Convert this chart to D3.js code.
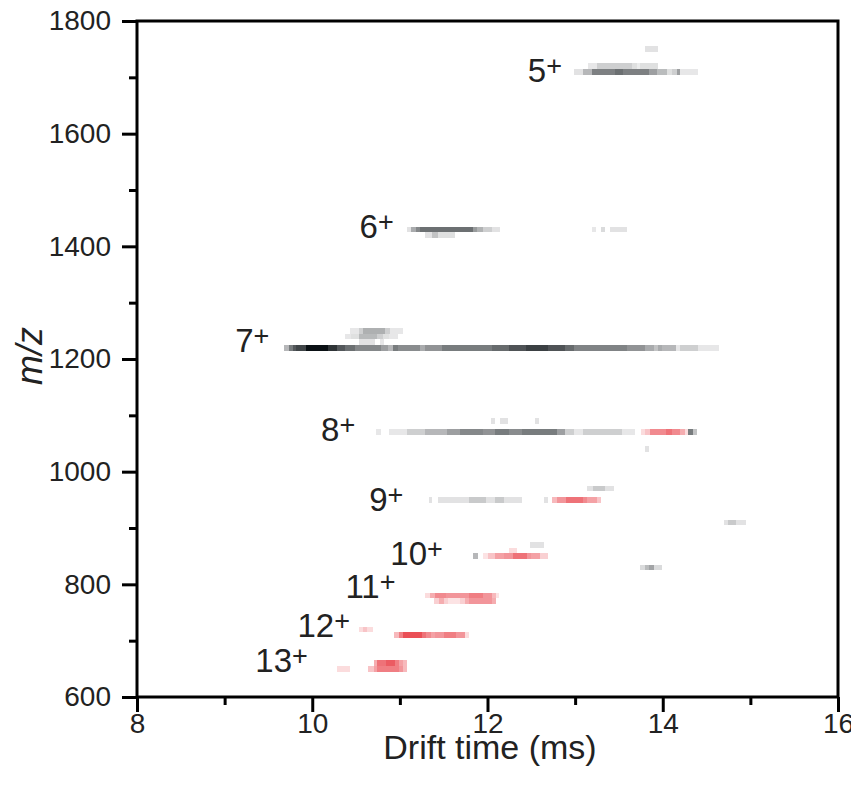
<!DOCTYPE html>
<html>
<head>
<meta charset="utf-8">
<script src="https://cdn.jsdelivr.net/npm/d3@7"></script>
<style>
  html, body { margin: 0; padding: 0; background: #fff; }
  svg { display: block; font-family: "Liberation Sans", Arial, sans-serif; }
</style>
</head>
<body>
<svg id="chart" width="851" height="787"></svg>
<script>
// ---- Data (drift time in ms, m/z bin centre, intensity 0..1, channel g=grey r=red) ----
// each cell: [mz, tStart, tEnd, intensity, channel]
const ion5 = [
  [1710, 12.99, 13.09, 0.12, "g"], [1710, 13.09, 13.19, 0.30, "g"], [1710, 13.19, 13.46, 0.53, "g"],
  [1710, 13.46, 13.55, 0.60, "g"], [1710, 13.55, 13.84, 0.53, "g"], [1710, 13.84, 13.93, 0.40, "g"],
  [1710, 13.93, 14.05, 0.28, "g"], [1710, 14.05, 14.11, 0.13, "g"], [1710, 14.11, 14.16, 0.20, "g"],
  [1710, 14.16, 14.20, 0.40, "g"], [1710, 14.20, 14.40, 0.10, "g"],
  [1720, 13.15, 13.25, 0.10, "g"], [1720, 13.25, 13.65, 0.20, "g"], [1720, 13.65, 13.71, 0.13, "g"],
  [1720, 13.71, 13.74, 0.08, "g"], [1720, 13.74, 13.83, 0.13, "g"], [1720, 13.83, 13.95, 0.13, "g"],
  [1750, 13.80, 13.95, 0.12, "g"]
];
const ion6 = [
  [1430, 11.08, 11.13, 0.12, "g"], [1430, 11.13, 11.18, 0.35, "g"], [1430, 11.18, 11.23, 0.50, "g"],
  [1430, 11.23, 11.83, 0.60, "g"], [1430, 11.83, 11.88, 0.42, "g"], [1430, 11.88, 11.95, 0.32, "g"],
  [1430, 11.95, 12.05, 0.20, "g"], [1430, 12.05, 12.14, 0.12, "g"],
  [1420, 11.29, 11.37, 0.12, "g"], [1420, 11.37, 11.43, 0.25, "g"], [1420, 11.43, 11.63, 0.13, "g"],
  [1430, 13.19, 13.24, 0.10, "g"], [1430, 13.30, 13.34, 0.15, "g"], [1430, 13.40, 13.59, 0.12, "g"]
];
const ion7 = [
  [1220, 9.68, 9.73, 0.30, "g"], [1220, 9.73, 9.78, 0.55, "g"], [1220, 9.78, 9.82, 0.70, "g"],
  [1220, 9.82, 9.93, 0.78, "g"], [1220, 9.93, 10.18, 1.00, "g"], [1220, 10.18, 10.28, 0.85, "g"],
  [1220, 10.28, 10.37, 0.70, "g"], [1220, 10.37, 10.49, 0.60, "g"], [1220, 10.49, 10.78, 0.50, "g"],
  [1220, 10.78, 10.87, 0.40, "g"], [1220, 10.87, 10.92, 0.30, "g"], [1220, 10.92, 10.98, 0.55, "g"],
  [1220, 10.98, 11.23, 0.48, "g"], [1220, 11.23, 11.29, 0.35, "g"], [1220, 11.29, 11.48, 0.45, "g"],
  [1220, 11.48, 12.05, 0.55, "g"], [1220, 12.05, 12.24, 0.62, "g"], [1220, 12.24, 12.44, 0.72, "g"],
  [1220, 12.44, 12.69, 0.80, "g"], [1220, 12.69, 12.88, 0.72, "g"], [1220, 12.88, 12.99, 0.62, "g"],
  [1220, 12.99, 13.59, 0.52, "g"], [1220, 13.59, 13.80, 0.45, "g"], [1220, 13.80, 13.90, 0.35, "g"],
  [1220, 13.90, 13.95, 0.25, "g"], [1220, 13.95, 13.99, 0.35, "g"], [1220, 13.99, 14.15, 0.30, "g"],
  [1220, 14.15, 14.20, 0.10, "g"], [1220, 14.20, 14.40, 0.20, "g"], [1220, 14.40, 14.64, 0.10, "g"],
  [1250, 10.43, 10.53, 0.10, "g"], [1250, 10.53, 10.58, 0.20, "g"], [1250, 10.58, 10.83, 0.33, "g"],
  [1250, 10.83, 10.89, 0.20, "g"], [1250, 10.89, 11.03, 0.10, "g"],
  [1240, 10.37, 10.44, 0.10, "g"], [1240, 10.44, 10.53, 0.13, "g"], [1240, 10.53, 10.74, 0.29, "g"],
  [1240, 10.74, 10.81, 0.20, "g"], [1240, 10.81, 10.88, 0.13, "g"], [1240, 10.88, 10.98, 0.10, "g"],
  [1230, 10.53, 10.72, 0.12, "g"], [1230, 10.77, 10.82, 0.10, "g"]
];
const ion8 = [
  [1070, 10.73, 10.78, 0.10, "g"], [1070, 10.88, 11.08, 0.10, "g"], [1070, 11.08, 11.29, 0.20, "g"],
  [1070, 11.29, 11.54, 0.30, "g"], [1070, 11.54, 11.69, 0.40, "g"], [1070, 11.69, 11.95, 0.50, "g"],
  [1070, 11.95, 12.09, 0.45, "g"], [1070, 12.09, 12.24, 0.55, "g"], [1070, 12.24, 12.39, 0.48, "g"],
  [1070, 12.39, 12.79, 0.55, "g"], [1070, 12.79, 12.88, 0.40, "g"], [1070, 12.88, 12.99, 0.20, "g"],
  [1070, 12.99, 13.09, 0.10, "g"], [1070, 13.09, 13.54, 0.20, "g"], [1070, 13.54, 13.68, 0.10, "g"],
  [1070, 13.75, 13.80, 0.15, "r"], [1070, 13.80, 13.85, 0.25, "r"], [1070, 13.85, 14.04, 0.50, "r"],
  [1070, 14.04, 14.10, 0.60, "r"], [1070, 14.10, 14.20, 0.50, "r"], [1070, 14.20, 14.25, 0.35, "r"],
  [1070, 14.25, 14.29, 0.15, "r"], [1070, 14.29, 14.35, 0.55, "g"], [1070, 14.35, 14.39, 0.25, "g"],
  [1090, 12.04, 12.08, 0.12, "g"], [1090, 12.14, 12.23, 0.12, "g"], [1090, 12.54, 12.59, 0.12, "g"],
  [1040, 13.80, 13.84, 0.12, "g"]
];
const ion9 = [
  [950, 11.33, 11.37, 0.12, "g"], [950, 11.44, 11.79, 0.12, "g"], [950, 11.79, 11.98, 0.22, "g"],
  [950, 11.98, 12.09, 0.12, "g"], [950, 12.09, 12.19, 0.22, "g"], [950, 12.19, 12.39, 0.12, "g"],
  [950, 12.65, 12.69, 0.12, "g"],
  [950, 12.74, 12.79, 0.30, "r"], [950, 12.79, 12.90, 0.45, "r"], [950, 12.90, 13.09, 0.60, "r"],
  [950, 13.09, 13.14, 0.50, "r"], [950, 13.14, 13.25, 0.40, "r"], [950, 13.25, 13.29, 0.25, "r"],
  [970, 13.14, 13.20, 0.12, "g"], [970, 13.20, 13.34, 0.22, "g"], [970, 13.34, 13.44, 0.12, "g"],
  [910, 14.70, 14.75, 0.12, "g"], [910, 14.75, 14.84, 0.22, "g"], [910, 14.84, 14.95, 0.12, "g"]
];
const ion10 = [
  [850, 11.84, 11.89, 0.30, "g"],
  [850, 11.95, 12.00, 0.12, "r"], [850, 12.00, 12.09, 0.25, "r"], [850, 12.09, 12.19, 0.40, "r"],
  [850, 12.19, 12.29, 0.45, "r"], [850, 12.29, 12.45, 0.60, "r"], [850, 12.45, 12.50, 0.45, "r"],
  [850, 12.50, 12.60, 0.40, "r"], [850, 12.60, 12.69, 0.20, "r"],
  [860, 12.25, 12.34, 0.15, "r"],
  [870, 12.49, 12.64, 0.12, "g"],
  [830, 13.74, 13.80, 0.15, "g"], [830, 13.80, 13.84, 0.28, "g"], [830, 13.84, 13.90, 0.38, "g"],
  [830, 13.90, 13.99, 0.15, "g"]
];
const ion11 = [
  [780, 11.29, 11.34, 0.15, "r"], [780, 11.34, 11.40, 0.35, "r"], [780, 11.40, 11.53, 0.50, "r"],
  [780, 11.53, 11.79, 0.45, "r"], [780, 11.79, 11.95, 0.55, "r"], [780, 11.95, 12.05, 0.45, "r"],
  [780, 12.05, 12.10, 0.30, "r"], [780, 12.10, 12.13, 0.12, "r"],
  [770, 11.39, 11.45, 0.20, "r"], [770, 11.45, 11.50, 0.35, "r"], [770, 11.50, 11.55, 0.20, "r"],
  [770, 11.55, 11.69, 0.12, "r"], [770, 11.69, 11.74, 0.20, "r"], [770, 11.74, 11.79, 0.35, "r"],
  [770, 11.79, 12.05, 0.45, "r"], [770, 12.05, 12.10, 0.35, "r"]
];
const ion12 = [
  [720, 10.53, 10.58, 0.15, "r"], [720, 10.58, 10.63, 0.25, "r"], [720, 10.63, 10.69, 0.15, "r"],
  [710, 10.93, 10.99, 0.30, "r"], [710, 10.99, 11.04, 0.55, "r"], [710, 11.04, 11.25, 0.75, "r"],
  [710, 11.25, 11.30, 0.60, "r"], [710, 11.30, 11.35, 0.50, "r"], [710, 11.35, 11.40, 0.40, "r"],
  [710, 11.40, 11.50, 0.45, "r"], [710, 11.50, 11.64, 0.55, "r"], [710, 11.64, 11.74, 0.45, "r"],
  [710, 11.74, 11.79, 0.15, "r"]
];
const ion13 = [
  [660, 10.70, 10.74, 0.35, "r"], [660, 10.74, 10.84, 0.60, "r"], [660, 10.84, 10.94, 0.70, "r"],
  [660, 10.94, 10.99, 0.55, "r"], [660, 10.99, 11.04, 0.40, "r"], [660, 11.04, 11.08, 0.30, "r"],
  [650, 10.28, 10.43, 0.15, "r"], [650, 10.64, 10.70, 0.25, "r"], [650, 10.70, 10.74, 0.40, "r"],
  [650, 10.74, 10.99, 0.55, "r"], [650, 10.99, 11.04, 0.45, "r"], [650, 11.04, 11.08, 0.30, "r"]
];

// charge-state labels: [charge, drift time of label end, m/z of baseline]
const chargeLabels = [
  ["5", 12.85, 1692], ["6", 10.93, 1415], ["7", 9.51, 1213], ["8", 10.49, 1054],
  ["9", 11.04, 930], ["10", 11.49, 834], ["11", 10.95, 776], ["12", 10.43, 707], ["13", 9.95, 645]
];

const xMajorTicks = [8, 10, 12, 14, 16];
const xMinorTicks = [9, 11, 13, 15];
const yMajorTicks = [600, 800, 1000, 1200, 1400, 1600, 1800];
const yMinorTicks = [700, 900, 1100, 1300, 1500, 1700];
const xDomain = [8, 16];
const yDomain = [600, 1800];
const binHalf = 5;

// ---- Layout ----
const svg = d3.select("#chart");
const L = 137, R = 838, T = 21, B = 697;
const x = d3.scaleLinear().domain(xDomain).range([L, R]);
const y = d3.scaleLinear().domain(yDomain).range([B, T]);

const grey = d3.interpolateRgb("#ffffff", "#0a1014");
const red = d3.interpolateRgb("#ffffff", "#e3141e");

const cells = [].concat(ion5, ion6, ion7, ion8, ion9, ion10, ion11, ion12, ion13);

svg.append("g").selectAll("rect").data(cells).join("rect")
  .attr("x", d => x(d[1]))
  .attr("width", d => x(d[2]) - x(d[1]))
  .attr("y", d => y(d[0] + binHalf))
  .attr("height", d => y(d[0] - binHalf) - y(d[0] + binHalf))
  .attr("fill", d => d[4] === "r" ? red(d[3]) : grey(d[3]))
  .attr("shape-rendering", "crispEdges");

// ---- Axes ----
function styleAxis(g) {
  g.select(".domain").remove();
  g.attr("font-size", null).attr("font-family", null);
  g.selectAll(".tick line").attr("stroke", "#000").attr("stroke-width", 3);
  g.selectAll(".tick text").attr("fill", "#222").style("font-size", "28px")
    .style("font-family", "'Liberation Sans', Arial, sans-serif");
}

svg.append("g").attr("transform", `translate(${L},0)`)
  .call(d3.axisLeft(y).tickValues(yMinorTicks).tickSize(8).tickFormat(""))
  .call(styleAxis);
svg.append("g").attr("transform", `translate(${L},0)`)
  .call(d3.axisLeft(y).tickValues(yMajorTicks).tickSize(15).tickPadding(11).tickFormat(d3.format("d")))
  .call(styleAxis);

svg.append("g").attr("transform", `translate(0,${B})`)
  .call(d3.axisBottom(x).tickValues(xMinorTicks).tickSize(8).tickFormat(""))
  .call(styleAxis);
const xg = svg.append("g").attr("transform", `translate(0,${B})`)
  .call(d3.axisBottom(x).tickValues(xMajorTicks).tickSize(15).tickFormat(d3.format("d")))
  .call(styleAxis);
xg.selectAll(".tick text").attr("y", 36).attr("dy", 0);

// frame
svg.append("rect")
  .attr("x", L).attr("y", T).attr("width", R - L).attr("height", B - T)
  .attr("fill", "none").attr("stroke", "#000").attr("stroke-width", 3);

// axis titles
svg.append("text")
  .attr("x", 490).attr("y", 759)
  .attr("text-anchor", "middle")
  .attr("fill", "#222")
  .style("font-size", "34px")
  .text("Drift time (ms)");

svg.append("text")
  .attr("transform", `translate(42,${(T + B) / 2 - 3}) rotate(-90)`)
  .attr("text-anchor", "middle")
  .attr("fill", "#222")
  .style("font-size", "36px")
  .style("font-style", "italic")
  .text("m/z");

// charge labels
const lab = svg.append("g").selectAll("text").data(chargeLabels).join("text")
  .attr("x", d => x(d[1]))
  .attr("y", d => y(d[2]))
  .attr("text-anchor", "end")
  .attr("fill", "#222")
  .style("font-size", "33px");
lab.append("tspan").text(d => d[0]);
lab.append("tspan").attr("dy", -7).style("font-size", "27px").text("+");
</script>
</body>
</html>
